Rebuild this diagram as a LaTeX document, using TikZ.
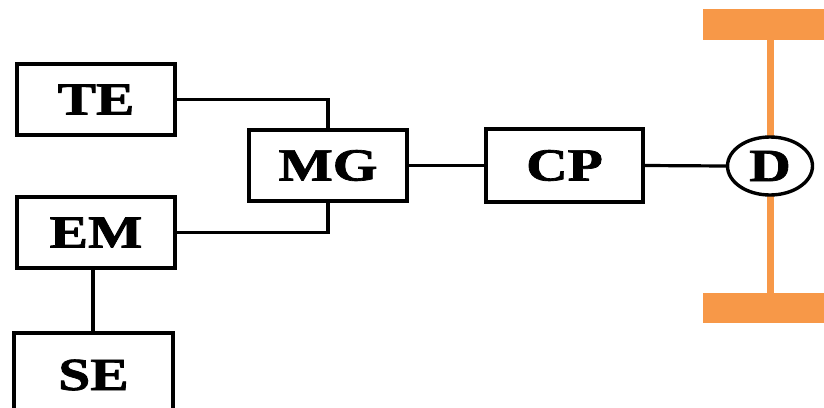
\documentclass[tikz,border=0pt]{standalone}
\usepackage{fontspec}
\setmainfont{Liberation Serif}[BoldFeatures={FakeBold=1.5}]
\usetikzlibrary{shapes.geometric}
\definecolor{axleorange}{RGB}{247,152,72}
\newcommand{\wide}[1]{\scalebox{1.25}[1]{#1}}
\begin{document}
\begin{tikzpicture}[x=1pt,y=-1pt,
  blk/.style={draw=black,line width=3.4pt,fill=white,inner sep=0pt,minimum width=158pt,minimum height=71pt,font=\fontsize{46}{46}\selectfont\bfseries},
  conn/.style={draw=black,line width=3.2pt},
  axle/.style={draw=axleorange,line width=7pt},
  bar/.style={fill=axleorange,draw=none}]
\useasboundingbox (0,0) rectangle (824,407);
\begin{scope}
\clip (0,0) rectangle (824,407);
% axle
\fill[bar] (703,9) rectangle (830,40);
\fill[bar] (703,293) rectangle (830,323);
\coordinate (axtop) at (770,40);
\coordinate (axbot) at (770,293);
\draw[axle] (axtop) -- (axbot);
% blocks
\node[blk] (TE) at (96,99.5) {\wide{TE}};
\node[blk] (MG) at (328,165.5) {\wide{MG}};
\node[blk] (EM) at (96,232.5) {\wide{EM}};
\node[blk,minimum width=159pt,minimum height=84pt] (SE) at (93.5,375) {\wide{SE}};
\node[blk,minimum width=157pt,minimum height=73pt] (CP) at (564.5,165.5) {\wide{CP}};
\node[blk,ellipse,minimum width=85pt,minimum height=58pt] (D) at (770,166) {\wide{D}};
% connectors
\draw[conn] (TE.east) -| (MG.north);
\draw[conn] (EM.east) -| (MG.south);
\draw[conn] (EM.south -| 93,0) -- (SE.north -| 93,0);
\draw[conn] (MG.east) -- (CP.west);
\draw[conn] (CP.east) -- (D.west);
\end{scope}
\end{tikzpicture}
\end{document}
